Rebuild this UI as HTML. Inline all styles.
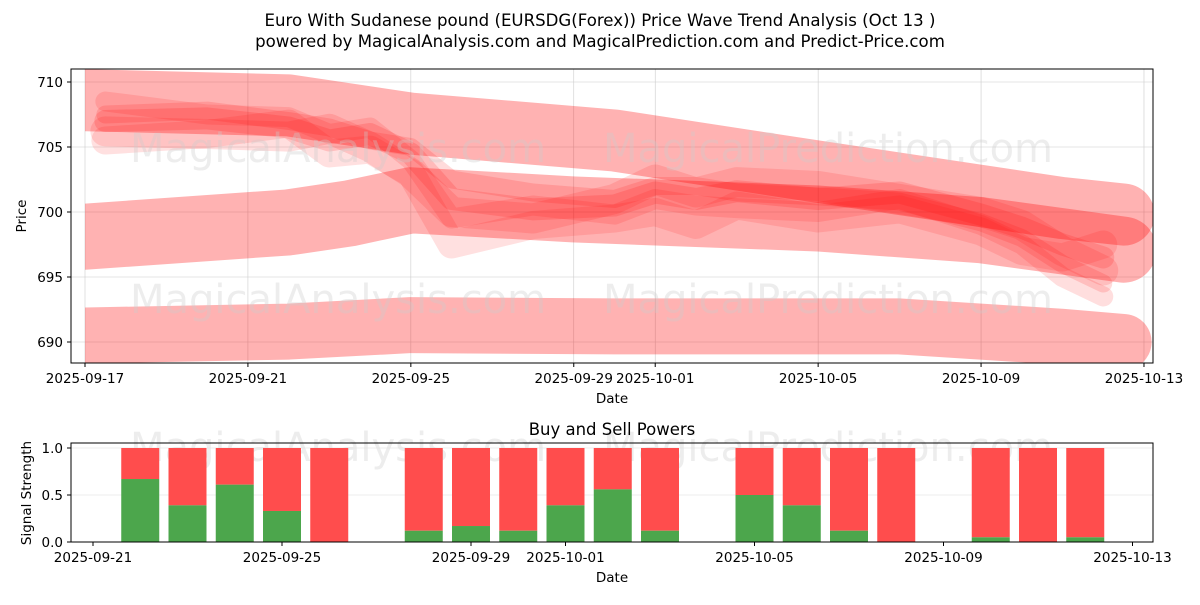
<!DOCTYPE html>
<html><head><meta charset="utf-8"><style>
body{margin:0;background:#fff;width:1200px;height:600px;overflow:hidden;font-family:"Liberation Sans","DejaVu Sans",sans-serif}
svg text{font-family:"DejaVu Sans","Liberation Sans",sans-serif}
</style></head><body>
<svg id="c" width="1200" height="600" xmlns="http://www.w3.org/2000/svg">
<text x="600" y="26" font-size="16.6" text-anchor="middle">Euro With Sudanese pound (EURSDG(Forex)) Price Wave Trend Analysis (Oct 13 )</text>
<text x="600" y="47" font-size="16.6" text-anchor="middle">powered by MagicalAnalysis.com and MagicalPrediction.com and Predict-Price.com</text>
<defs><clipPath id="clipTop"><rect x="85" y="69" width="1068" height="294"/></clipPath></defs>
<g id="topGrid"></g>
<g id="bands" clip-path="url(#clipTop)"></g>
<g fill="#ccc" opacity="0.35" font-size="40">
<text x="130" y="162">MagicalAnalysis.com</text><text x="603" y="162">MagicalPrediction.com</text>
<text x="130" y="313">MagicalAnalysis.com</text><text x="603" y="313">MagicalPrediction.com</text>
<text x="130" y="461">MagicalAnalysis.com</text><text x="603" y="461">MagicalPrediction.com</text>
</g>
<rect x="71" y="69" width="1082" height="294" fill="none" stroke="#000" stroke-width="1"/>
<g id="topAxes"></g>
<text x="612" y="403" font-size="13.5" text-anchor="middle">Date</text>
<text x="26" y="216" font-size="13.5" text-anchor="middle" transform="rotate(-90 26 216)">Price</text>
<text x="612" y="435" font-size="16.5" text-anchor="middle">Buy and Sell Powers</text>
<g id="botGrid"></g>
<g id="bars"></g>
<rect x="71" y="443" width="1082" height="99" fill="none" stroke="#000" stroke-width="1"/>
<g id="botAxes"></g>
<text x="612" y="582" font-size="13.5" text-anchor="middle">Date</text>
<text x="31" y="493" font-size="13.5" text-anchor="middle" transform="rotate(-90 31 493)">Signal Strength</text>
</svg>
<script>
// ---- price chart data (day index from 2025-09-17) ----
const priceTicks=[690,695,700,705,710];
const dateTickDays=[0,4,8,12,14,18,22,26];
const dateTickLabels=["2025-09-17","2025-09-21","2025-09-25","2025-09-29","2025-10-01","2025-10-05","2025-10-09","2025-10-13"];
const bandLowDays=[0,5,8,13,20,24,25.5];
const bandLowVals=[690.5,690.8,691.3,691.2,691.2,690.4,690.0];
const bandMidDays=[0,5,6.5,8,12,18,22,25.5];
const bandMidVals=[698.1,699.2,699.9,700.9,700.2,699.5,698.6,697.1];
const bandTopDays=[0,5,8,13,18,24,25.5];
const bandTopVals=[708.6,708.2,706.8,705.5,703.1,700.3,699.8];
const waveDays=[0.5,3,5,6,7,8,9,11,13,14,15,16,18,20,22,23,24,25];
const waveA=[707.0,707.2,706.5,705.5,706.0,704.5,701.0,700.2,700.5,701.5,701.0,701.6,701.0,701.5,699.8,698.8,697.5,696.5];
const waveB=[706.2,706.0,705.8,706.4,705.0,703.0,700.0,699.5,701.0,702.5,701.5,702.3,702.0,701.0,700.0,699.0,697.0,695.5];
const waveC=[708.5,707.5,707.3,706.0,706.5,704.0,699.5,700.5,699.8,701.0,700.5,700.3,700.0,701.0,699.0,697.5,695.0,693.5];
const waveD=[705.5,706.0,706.8,704.5,704.8,703.0,697.5,699.0,699.5,700.0,699.0,700.5,699.5,700.2,698.5,697.0,696.5,697.5];
const waveE=[707.5,707.8,707.0,706.5,705.5,705.0,702.5,701.5,701.0,702.0,702.0,701.5,701.2,700.8,699.2,698.0,696.0,694.5];
// ---- power chart data ----
const powerDates=[1,2,3,4,5,7,8,9,10,11,12,14,15,16,17,19,20,21]; // days from 2025-09-21
const buyVals=[0.67,0.39,0.61,0.33,0,0.12,0.17,0.12,0.39,0.56,0.12,0.5,0.39,0.12,0,0.05,0,0.05];
const powerTicks=[0,0.5,1.0];
const powerTickLabels=["0.0","0.5","1.0"];
const powerDateDays=[0,4,8,10,14,18,22];
const powerDateLabels=["2025-09-21","2025-09-25","2025-09-29","2025-10-01","2025-10-05","2025-10-09","2025-10-13"];

const NS="http://www.w3.org/2000/svg";
function mk(t,a,p){const e=document.createElementNS(NS,t);for(const k in a)e.setAttribute(k,a[k]);p.appendChild(e);return e;}
const xT=d=>85+d*40.73, yT=p=>342-(p-690)*13;
const xB=d=>93+d*47.25, yB=v=>542-v*94;
const g=id=>document.getElementById(id);

priceTicks.forEach(p=>{
 const l=mk('line',{x1:71,x2:1153,y1:yT(p),y2:yT(p),stroke:'#ccc','stroke-width':0.6},g('topGrid'));
 
 
 mk('line',{x1:67,x2:71,y1:yT(p),y2:yT(p),stroke:'#000'},g('topAxes'));
 const t=mk('text',{x:63,y:yT(p)+5,'font-size':13.5,'text-anchor':'end'},g('topAxes'));t.textContent=p;
 
 
});
dateTickDays.forEach((d,i)=>{
 const l=mk('line',{x1:xT(d),x2:xT(d),y1:69,y2:363,stroke:'#ccc','stroke-width':0.6},g('topGrid'));
 
 
 mk('line',{x1:xT(d),x2:xT(d),y1:363,y2:367,stroke:'#000'},g('topAxes'));
 const t=mk('text',{x:xT(d),y:383,'font-size':13.5,'text-anchor':'middle'},g('topAxes'));t.textContent=dateTickLabels[i];
 
 
});
function band(days,vals,w,op,name){
 const pts=days.map((d,i)=>xT(d)+','+yT(vals[i])).join(' ');
 const e=mk('polyline',{points:pts,fill:'none',stroke:'#ff0000','stroke-opacity':op,'stroke-width':w,'stroke-linejoin':'round','stroke-linecap':'round'},g('bands'));
 
 
}
band(bandLowDays,bandLowVals,56,0.3,'wave-band-low');
band(bandMidDays,bandMidVals,66,0.3,'wave-band-mid');
band(bandTopDays,bandTopVals,62,0.3,'wave-band-top');
band(waveDays,waveA,22,0.15,'wave-line-a');
band(waveDays,waveB,30,0.13,'wave-line-b');
band(waveDays,waveC,20,0.13,'wave-line-c');
band(waveDays,waveD,28,0.12,'wave-line-d');
band(waveDays,waveE,18,0.14,'wave-line-e');

powerTicks.forEach((v,i)=>{
 const l=mk('line',{x1:71,x2:1153,y1:yB(v),y2:yB(v),stroke:'#ddd','stroke-width':0.6},g('botGrid'));
 
 
 mk('line',{x1:67,x2:71,y1:yB(v),y2:yB(v),stroke:'#000'},g('botAxes'));
 const t=mk('text',{x:63,y:yB(v)+5,'font-size':13.5,'text-anchor':'end'},g('botAxes'));t.textContent=powerTickLabels[i];
 
 
});
powerDateDays.forEach((d,i)=>{
 mk('line',{x1:xB(d),x2:xB(d),y1:542,y2:546,stroke:'#000'},g('botAxes'));
 const t=mk('text',{x:xB(d),y:562,'font-size':13.5,'text-anchor':'middle'},g('botAxes'));t.textContent=powerDateLabels[i];
 
 
});
powerDates.forEach((d,i)=>{
 const x=xB(d)-19,w=38;
 const s=mk('rect',{x:x,y:yB(1),width:w,height:yB(buyVals[i])-yB(1),fill:'#ff4d4d'},g('bars'));
 
 
 const b=mk('rect',{x:x,y:yB(buyVals[i]),width:w,height:yB(0)-yB(buyVals[i]),fill:'#4ca64c'},g('bars'));
 
 
});
</script>
</body></html>
